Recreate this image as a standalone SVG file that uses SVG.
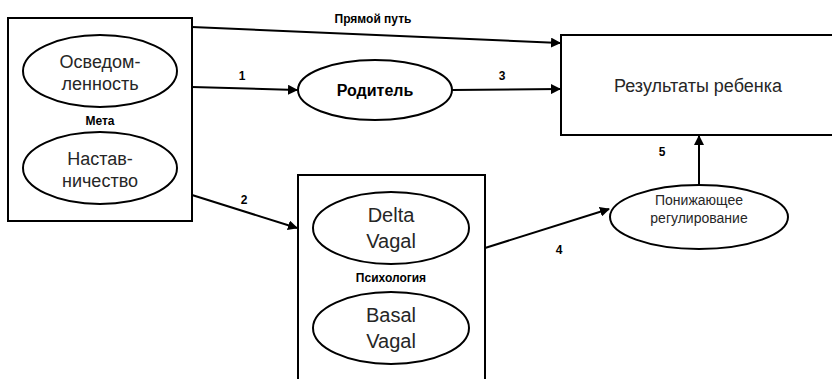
<svg xmlns="http://www.w3.org/2000/svg" width="832" height="379" viewBox="0 0 832 379">
<style>
.box{fill:#fff;stroke:#000;stroke-width:2}
.ell{fill:#fff;stroke:#000;stroke-width:2}
.t{font-family:"Liberation Sans",Arial,sans-serif;fill:#262626;text-anchor:middle}
.b{font-family:"Liberation Sans",Arial,sans-serif;font-weight:bold;fill:#000;text-anchor:middle}
.c{stroke:#000;stroke-width:2;fill:none;marker-end:url(#ah)}
</style>
<defs>
<marker id="ah" viewBox="0 0 10 10" refX="9" refY="5" markerWidth="5" markerHeight="5" orient="auto" markerUnits="strokeWidth">
<path d="M0,0 L10,5 L0,10 z" fill="#000"/>
</marker>
</defs>
<rect width="832" height="379" fill="#fff"/>
<g id="meta">
<rect class="box" x="8" y="18" width="184" height="203"/>
<text class="b" x="100" y="125" font-size="12">Мета</text>
</g>
<g id="awareness">
<ellipse class="ell" cx="100" cy="71" rx="77" ry="36"/>
<text class="t" x="100" y="68" font-size="18">Осведом-</text>
<text class="t" x="100" y="90" font-size="18">ленность</text>
</g>
<g id="mentoring">
<ellipse class="ell" cx="100" cy="168" rx="77" ry="36"/>
<text class="t" x="100" y="165" font-size="18">Настав-</text>
<text class="t" x="100" y="187" font-size="18">ничество</text>
</g>
<g id="parent">
<ellipse class="ell" cx="375" cy="90" rx="77" ry="30"/>
<text class="b" x="375" y="96" font-size="16">Родитель</text>
</g>
<g id="results">
<rect class="box" x="561" y="35" width="290" height="100"/>
<text class="t" x="698" y="92" font-size="18">Результаты ребенка</text>
</g>
<g id="psychology">
<rect class="box" x="298" y="175" width="187" height="220"/>
<text class="b" x="391" y="282" font-size="12">Психология</text>
</g>
<g id="delta">
<ellipse class="ell" cx="391" cy="228" rx="78" ry="36"/>
<text class="t" x="391" y="222" font-size="20">Delta</text>
<text class="t" x="391" y="248" font-size="20">Vagal</text>
</g>
<g id="basal">
<ellipse class="ell" cx="391" cy="328" rx="78" ry="36"/>
<text class="t" x="391" y="322" font-size="20">Basal</text>
<text class="t" x="391" y="348" font-size="20">Vagal</text>
</g>
<g id="downreg">
<ellipse class="ell" cx="699" cy="217" rx="89" ry="32"/>
<text class="t" x="699" y="205" font-size="14">Понижающее</text>
<text class="t" x="699" y="223" font-size="14">регулирование</text>
</g>
<g id="connectors">
<line class="c" x1="192" y1="27" x2="560" y2="43"/>
<text class="b" x="373" y="23" font-size="12">Прямой путь</text>
<line class="c" x1="192" y1="87" x2="297" y2="90"/>
<text class="b" x="242" y="80" font-size="12">1</text>
<line class="c" x1="452" y1="90" x2="560" y2="89"/>
<text class="b" x="502" y="80" font-size="12">3</text>
<line class="c" x1="192" y1="195" x2="297" y2="228"/>
<text class="b" x="244" y="204" font-size="12">2</text>
<line class="c" x1="485" y1="248" x2="609" y2="209"/>
<text class="b" x="559" y="254" font-size="12">4</text>
<line class="c" x1="699" y1="185" x2="699" y2="136"/>
<text class="b" x="662" y="156" font-size="12">5</text>
</g>
</svg>
